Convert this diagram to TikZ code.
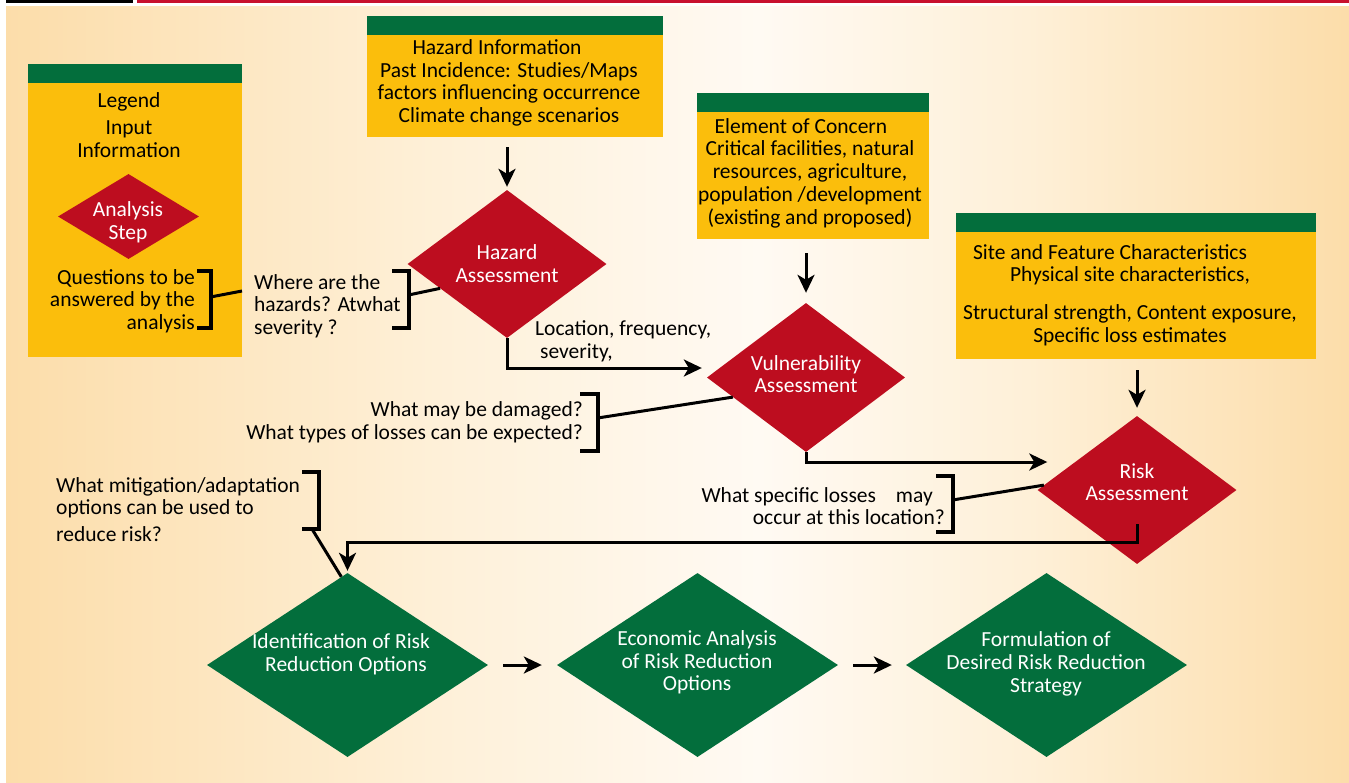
\documentclass[tikz,border=0pt]{standalone}
\usepackage{fontspec}
\setmainfont{Carlito}
\usetikzlibrary{shapes.geometric, arrows.meta, calc}

\definecolor{headgreen}{RGB}{3,110,60}
\definecolor{boxyellow}{RGB}{251,190,12}
\definecolor{stepred}{RGB}{189,13,31}
\definecolor{rulered}{RGB}{200,16,46}
\definecolor{bgedge}{RGB}{252,221,170}
\definecolor{bgmid}{RGB}{254,240,216}
\definecolor{bglight}{RGB}{255,250,243}

% warm page wash: orange at the sides, almost white in the middle
\pgfdeclarehorizontalshading{pagewash}{100bp}{%
  color(0bp)=(bgedge); color(25bp)=(bgedge); color(41bp)=(bgmid);
  color(53bp)=(bglight); color(63bp)=(bgmid); color(75bp)=(bgedge);
  color(100bp)=(bgedge)}

\newcommand\chartfont{\fontsize{21.5}{22.7}\selectfont}

\tikzset{
  infobox/.style={fill=boxyellow, inner sep=0pt},
  boxtext/.style={font=\chartfont, align=center, inner sep=0pt},
  stepdia/.style={diamond, fill=stepred, inner sep=0pt},
  optdia/.style={diamond, fill=headgreen, inner sep=0pt,
                 minimum width=281, minimum height=184},
  diatext/.style={font=\chartfont, text=white, align=center, inner sep=0pt},
  qtext/.style={font=\chartfont, inner sep=0pt},
  flow/.style={line width=3pt, -{Stealth[length=18pt,width=17pt,inset=5pt]}},
  link/.style={line width=3pt},
  brace/.style={line width=4pt},
}

\begin{document}
\begin{tikzpicture}[x=1pt, y=-1pt]
\useasboundingbox (0,0) rectangle (1349,782);

% top rules and background
\fill[black] (6,0) rectangle (133,2.5);
\fill[rulered] (137,0) rectangle (1349,2.5);
\shade[shading=pagewash] (6,6) rectangle (1349,782);

% ---------- legend ----------
\node[infobox, minimum width=214, minimum height=274] (legend) at (135,220) {};
\fill[headgreen] (legend.north west) rectangle ([yshift=19pt]legend.north east);
\node[boxtext] (legend-t) at (129,125) {Legend\\[4pt]Input\\Information};
\node[stepdia, minimum width=141, minimum height=85] (legend-step) at (128.5,216.5) {};
\node[diatext] (legend-step-t) at (128,222.5) {Analysis\\Step};
\node[qtext, align=right, anchor=east] (legend-q) at (195,301)
  {Questions to be\\answered by the\\analysis};
\draw[brace] (197,271) -- (210.5,271) -- (210.5,327.5) -- (197,327.5);
\coordinate (lgq) at (210.5,297);
\coordinate (lge) at (242,291);
\draw[link] (lgq) -- (lge);

% ---------- input boxes ----------
\node[infobox, minimum width=296, minimum height=102] (hazinfo) at (515,86) {};
\fill[headgreen] (hazinfo.north west) rectangle ([yshift=19pt]hazinfo.north east);
\node[boxtext] (hazinfo-t) at (509,83)
  {Hazard Information\hspace*{24pt}\\Past Incidence: Studies/Maps\\factors influencing occurrence\\Climate change scenarios};

\node[infobox, minimum width=232, minimum height=127] (concern) at (813,175.5) {};
\fill[headgreen] (concern.north west) rectangle ([yshift=19pt]concern.north east);
\node[boxtext] (concern-t) at (810,173)
  {Element of Concern\hspace*{18pt}\\Critical facilities, natural\\resources, agriculture,\\population /development\\(existing and proposed)};

\node[infobox, minimum width=360, minimum height=127] (site) at (1136,295.5) {};
\fill[headgreen] (site.north west) rectangle ([yshift=19pt]site.north east);
\node[boxtext] (site-t) at (1130,295)
  {Site and Feature Characteristics\hspace*{40pt}\\Physical site characteristics,\\[15pt]Structural strength, Content exposure,\\Specific loss estimates};

% ---------- analysis steps ----------
\node[stepdia, minimum width=199, minimum height=148] (hazass) at (507,264) {};
\node[diatext] (hazass-t) at (507,263.5) {Hazard\\Assessment};

\node[stepdia, minimum width=198, minimum height=149] (vulass) at (806,377.5) {};
\node[diatext] (vulass-t) at (806,374) {Vulnerability\\Assessment};

\node[stepdia, minimum width=199, minimum height=148] (risk) at (1137,490) {};
\node[diatext] (risk-t) at (1137,482) {Risk\\Assessment};

% ---------- risk reduction steps ----------
\node[optdia] (ident) at (347.5,665) {};
\node[diatext] (ident-t) at (341,654) {Identification of Risk\\\hspace*{10pt}Reduction Options};

\node[optdia] (econ) at (697.5,665) {};
\node[diatext] (econ-t) at (697,662.5) {Economic Analysis\\of Risk Reduction\\Options};

\node[optdia] (formul) at (1046.5,665) {};
\node[diatext] (formul-t) at (1046,664) {Formulation of\\Desired Risk Reduction\\Strategy};

% ---------- questions ----------
\node[qtext, align=left, anchor=west] (hazq) at (254,306)
  {Where are the\\hazards? Atwhat\\severity ?};
\draw[brace] (392,271) -- (408.5,271) -- (408.5,327.5) -- (392,327.5);
\coordinate (hzq) at (408.5,295);
\draw[link] (hzq) -- (hazass.200);

\node[qtext, align=left, anchor=west] (hazout) at (535,341)
  {Location, frequency,\\\hspace*{5pt}severity,};

\node[qtext, align=right, anchor=east] (vulq) at (583,422.5)
  {What may be damaged?\\What types of losses can be expected?};
\draw[brace] (580,394) -- (597.5,394) -- (597.5,451) -- (580,451);
\coordinate (vuq) at (597.5,418);
\draw[link] (vuq) -- (vulass.195);

\node[qtext, align=right, anchor=east] (riskq) at (945,506)
  {What specific losses\hspace{15pt} may\hspace*{12pt}\\occur at this location?};
\draw[brace] (936,476) -- (952.5,476) -- (952.5,532) -- (936,532);
\coordinate (rkq) at (952.5,500);
\draw[link] (rkq) -- (risk.177);

\node[qtext, align=left, anchor=west] (mitq) at (56,509.5)
  {What mitigation/adaptation\\options can be used to\\[4pt]reduce risk?};
\draw[brace] (302,472) -- (318.5,472) -- (318.5,529) -- (302,529);
\coordinate (mtq) at (312,529);
\draw[link] (mtq) -- (ident.94);

% ---------- flow ----------
\draw[flow, shorten <=10pt, shorten >=3pt] (hazinfo.south -| hazass.north) -- (hazass.north);
\draw[flow, shorten <=14pt, shorten >=10pt] (concern.south -| vulass.north) -- (vulass.north);
\draw[flow, shorten <=11pt, shorten >=8pt] (site.south -| risk.north) -- (risk.north);

\draw[flow] (hazass.south) |- ([xshift=-5pt,yshift=9.5pt]vulass.west);
\draw[flow] (vulass.south) |- ([xshift=10pt,yshift=28pt]risk.west);
\draw[flow] ([yshift=-34pt]risk.center) -- ++(0,18) -| ([yshift=2pt]ident.north);

\draw[flow, shorten <=15pt, shorten >=15pt] (ident.east) -- (econ.west);
\draw[flow, shorten <=15pt, shorten >=14pt] (econ.east) -- (formul.west);
\end{tikzpicture}
\end{document}
